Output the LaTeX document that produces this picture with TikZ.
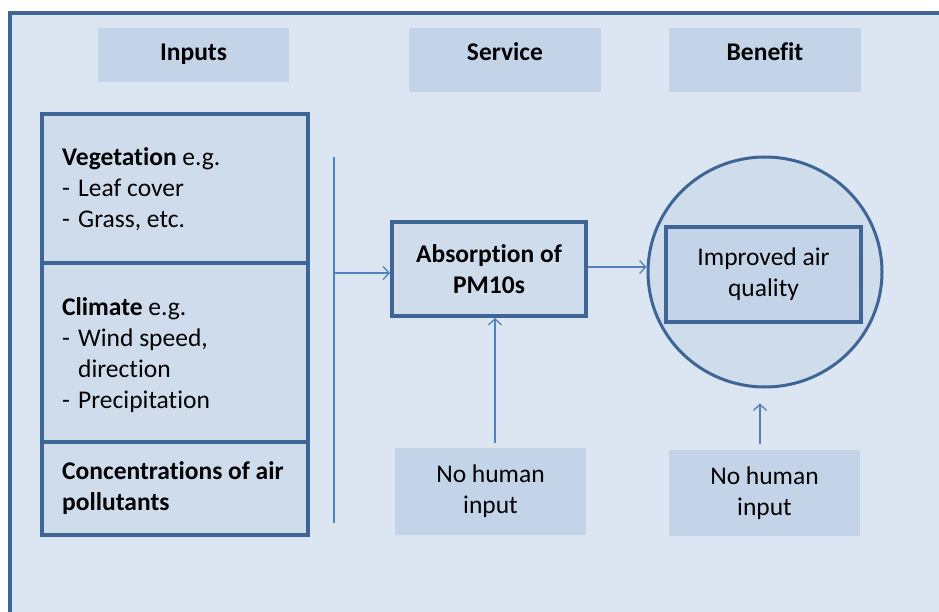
\documentclass[tikz,border=0pt]{standalone}
\usepackage{fontspec}
\setmainfont[Ligatures=NoCommon]{Carlito}
\usetikzlibrary{arrows.meta,shapes.geometric}
\definecolor{bgc}{HTML}{DCE6F2}
\definecolor{hdrc}{HTML}{C3D4E9}
\definecolor{boxc}{HTML}{CFDCEC}
\definecolor{innc}{HTML}{C3D4E9}
\definecolor{edgec}{HTML}{3F6496}
\definecolor{arrc}{HTML}{4F81BD}
\tikzset{
  hdrbox/.style={draw=none, fill=hdrc, rectangle, inner sep=0pt},
  thickbox/.style={draw=edgec, line width=4pt, fill=boxc, rectangle, inner sep=0pt},
  plainbox/.style={draw=none, fill=hdrc, rectangle, inner sep=0pt},
  txt/.style={font=\fontsize{25.5}{31}\selectfont, inner sep=0pt, text=black},
  conn/.style={draw=arrc, line width=1.3pt},
  arr/.style={conn, -{Straight Barb[length=6pt,width=13pt,line width=1.3pt]}}
}
\begin{document}
\begin{tikzpicture}[x=1pt,y=-1pt]
\useasboundingbox (0,0) rectangle (939,612);
\clip (0,0) rectangle (939,612);
\fill[white] (0,0) rectangle (939,612);
% outer frame
\draw[draw=edgec, line width=3.5pt, fill=bgc] (10,13) rectangle (1000,700);

% headers
\node[hdrbox, minimum width=191pt, minimum height=54pt] (hIn) at (193.5,55) {};
\node[hdrbox, minimum width=192pt, minimum height=64pt] (hSv) at (505,60) {};
\node[hdrbox, minimum width=192pt, minimum height=64pt] (hBn) at (765,60) {};
\node[txt, anchor=base] (tIn) at (193.5,61) {\textbf{Inputs}};
\node[txt, anchor=base] (tSv) at (505,61) {\textbf{Service}};
\node[txt, anchor=base] (tBn) at (765,61) {\textbf{Benefit}};

% input stack
\node[thickbox, minimum width=266pt, minimum height=149pt] (veg) at (175,188.5) {};
\node[thickbox, minimum width=266pt, minimum height=179pt] (clim) at (175,352.5) {};
\node[thickbox, minimum width=266pt, minimum height=93pt] (conc) at (175,488.5) {};

\node[txt, anchor=base west, align=left] (tveg) at (62,166) {%
  \begin{tabular}[t]{@{}l@{}}
  \textbf{Vegetation} e.g.\\
  \makebox[16pt][l]{-}Leaf cover\\
  \makebox[16pt][l]{-}Grass, etc.
  \end{tabular}};
\node[txt, anchor=base west, align=left] (tclim) at (62,315) {%
  \begin{tabular}[t]{@{}l@{}}
  \textbf{Climate} e.g.\\
  \makebox[16pt][l]{-}Wind speed,\\
  \hspace*{16pt}direction\\
  \makebox[16pt][l]{-}Precipitation
  \end{tabular}};
\node[txt, anchor=base west, align=left] (tconc) at (62,479) {%
  \begin{tabular}[t]{@{}l@{}}
  \textbf{Concentrations of air}\\
  \textbf{pollutants}
  \end{tabular}};

% collector line
\coordinate (vtop) at (334,157);
\coordinate (vbot) at (334,523);
\coordinate (vmid) at (334,273);
\draw[conn] (vtop) -- (vbot);

% service
\node[thickbox, minimum width=194pt, minimum height=94pt, txt, draw=edgec, line width=4pt, fill=boxc, align=center] (abs) at (489,269) {\textbf{Absorption of}\\\textbf{PM10s}};

% benefit
\node[draw=edgec, line width=3pt, fill=boxc, ellipse, minimum width=234pt, minimum height=230pt, inner sep=0pt] (circ) at (765,272) {};
\node[thickbox, fill=innc, minimum width=195pt, minimum height=95pt, txt, draw=edgec, line width=4pt, align=center] (iaq) at (763.5,274.5) {Improved air\\quality};

% no human input boxes
\node[plainbox, minimum width=191pt, minimum height=87pt, txt, fill=hdrc, align=center] (nh1) at (490.5,491.5) {No human\\input};
\node[plainbox, minimum width=191pt, minimum height=86pt, txt, fill=hdrc, align=center] (nh2) at (764.5,493) {No human\\input};

% arrows
\draw[arr] (vmid) -- (vmid -| abs.west);
\draw[arr] (abs.east |- 0,267) -- (circ.west |- 0,267);
\draw[arr] ([yshift=5pt]nh1.north -| 495,0) -- (abs.south -| 495,0);
\draw[arr, shorten >=15pt] ([yshift=6pt]nh2.north -| 760,0) -- (circ.south -| 760,0);
\end{tikzpicture}
\end{document}
